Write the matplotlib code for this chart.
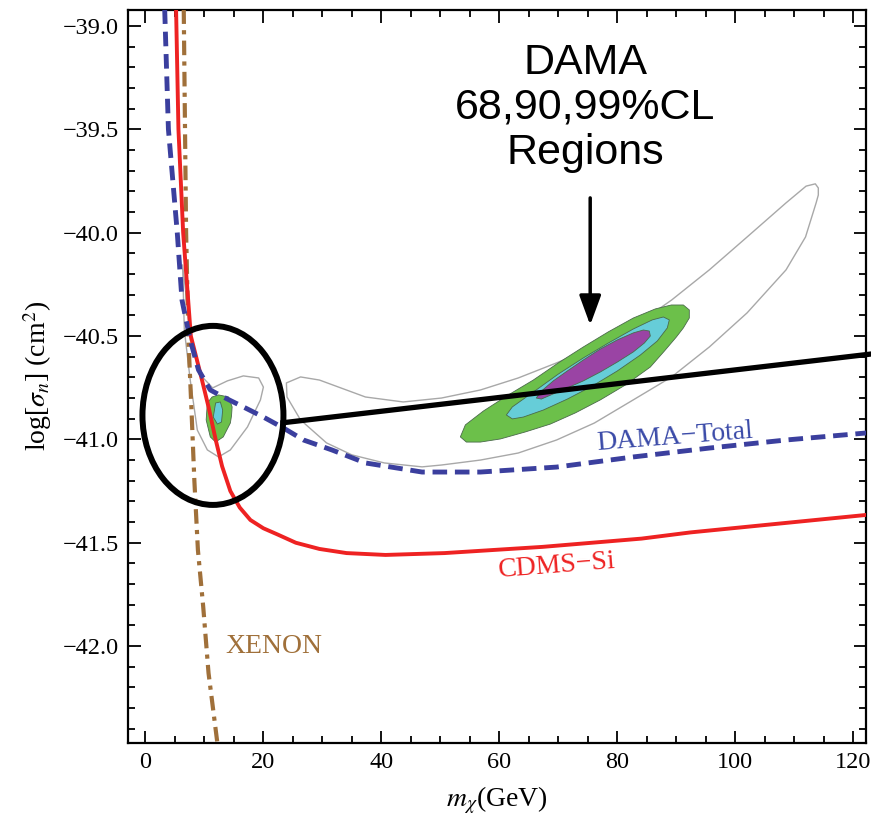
import matplotlib
matplotlib.use("Agg")
import matplotlib.pyplot as plt
from matplotlib.patches import Ellipse, Polygon
from matplotlib.ticker import MultipleLocator, FuncFormatter

# Exclusion curves (m_chi in GeV, log10 sigma_n in cm^2)
cdms_x = [5.2, 5.6, 6.4, 7.7, 9.3, 10.7, 11.9, 13.0, 14.4, 16.0, 17.8, 20.0, 22.4, 25.5,
          29.5, 34.1, 40.7, 50.7, 67.3, 84.1, 92.4, 122.0]
cdms_y = [-38.92, -39.5, -40.0, -40.5, -40.679, -40.843, -41.0, -41.13, -41.25, -41.33,
          -41.39, -41.43, -41.46, -41.50, -41.53, -41.55, -41.559, -41.55, -41.52, -41.48,
          -41.45, -41.366]

dama_x = [3.27, 3.9, 5.4, 6.2, 7.6, 9.0, 11.0, 13.2, 16.6, 20.0, 23.4, 26.8, 31.6,
          37.3, 46.9, 56.8, 69.7, 82.7, 95.6, 108.6, 122.2]
dama_y = [-38.92, -39.5, -40.0, -40.326, -40.519, -40.664, -40.761, -40.795, -40.843,
          -40.892, -40.945, -41.003, -41.051, -41.114, -41.158, -41.158, -41.134,
          -41.085, -41.042, -41.003, -40.969]

xenon_x = [6.5, 6.9, 7.3, 7.8, 8.3, 8.9, 9.8, 10.7, 12.2]
xenon_y = [-38.92, -40.0, -40.52, -40.85, -41.2, -41.535, -41.81, -42.13, -42.469]

# DAMA allowed regions (outlines)
main_99 = [(53.39, -40.988), (54.24, -40.930), (57.29, -40.863), (61.53, -40.785), (65.76, -40.713),
           (70.0, -40.630), (74.24, -40.553), (78.47, -40.480), (82.71, -40.413), (86.44, -40.369),
           (89.15, -40.350), (91.19, -40.350), (92.2, -40.374), (92.2, -40.413), (91.19, -40.461),
           (90.0, -40.505), (88.0, -40.572), (85.59, -40.650), (81.36, -40.737), (77.12, -40.809),
           (72.88, -40.872), (68.64, -40.926), (64.41, -40.964), (60.17, -40.998), (56.78, -41.013),
           (54.41, -41.013)]
main_90 = [(61.19, -40.882), (62.2, -40.843), (65.76, -40.771), (70.0, -40.684), (74.24, -40.606),
           (78.47, -40.534), (82.71, -40.466), (85.93, -40.422), (87.8, -40.408), (88.81, -40.422),
           (88.47, -40.461), (86.78, -40.524), (83.9, -40.592), (80.0, -40.669), (75.76, -40.742),
           (71.53, -40.805), (67.46, -40.858), (64.07, -40.892), (62.2, -40.901)]
main_68 = [(66.27, -40.800), (66.95, -40.771), (69.15, -40.717), (71.53, -40.669), (74.24, -40.616),
           (77.12, -40.563), (80.0, -40.519), (82.71, -40.485), (84.41, -40.471), (85.42, -40.476),
           (85.59, -40.500), (84.58, -40.534), (82.71, -40.577), (80.0, -40.626), (77.12, -40.674),
           (74.24, -40.717), (71.53, -40.751), (69.15, -40.780), (67.12, -40.805)]
low_99 = [(10.3, -40.906), (10.5, -40.824), (11.3, -40.795), (12.4, -40.785), (14.1, -40.795),
          (14.7, -40.843), (14.6, -40.885), (14.4, -40.921), (13.2, -40.988), (11.9, -41.013),
          (11.0, -40.988)]
low_90 = [(11.9, -40.824), (12.7, -40.819), (13.1, -40.858), (12.9, -40.916), (12.2, -40.926),
          (11.5, -40.892)]
low_outer = [(6.3, -40.156), (6.6, -40.471), (7.6, -40.713), (8.8, -40.955), (10.5, -41.051),
             (12.4, -41.085), (14.4, -41.051), (17.3, -40.940), (19.5, -40.809), (20.0, -40.747),
             (19.2, -40.703), (16.6, -40.693), (13.9, -40.717), (11.4, -40.751), (9.3, -40.688),
             (7.6, -40.519), (6.8, -40.277)]
main_outer = [(23.9, -40.727), (26.3, -40.698), (29.5, -40.713), (37.3, -40.795), (43.7, -40.819),
              (50.2, -40.800), (56.8, -40.761), (63.2, -40.703), (69.7, -40.630), (76.1, -40.553),
              (82.7, -40.456), (89.2, -40.326), (95.6, -40.180), (102.0, -40.021), (108.6, -39.856),
              (112.0, -39.775), (113.56, -39.764), (114.07, -39.784), (114.07, -39.818),
              (113.7, -39.856), (111.9, -40.021), (108.6, -40.180), (102.0, -40.388), (95.6, -40.553),
              (89.2, -40.698), (82.7, -40.809), (76.1, -40.921), (69.7, -41.003), (63.2, -41.066),
              (56.8, -41.100), (50.2, -41.124), (46.9, -41.133), (40.5, -41.114), (35.0, -41.075),
              (30.7, -41.017), (26.3, -40.906), (24.0, -40.795)]

plt.rcParams['font.family'] = ['Liberation Serif', 'DejaVu Serif']
plt.rcParams['mathtext.fontset'] = 'stix'

fig = plt.figure(figsize=(8.71, 8.31), dpi=100)
ax = fig.add_axes([0.1473, 0.1063, 0.8466, 0.8817])

# gray outer contours
for pts in (main_outer, low_outer):
    ax.add_patch(Polygon(pts, closed=True, fill=False, edgecolor='#a8a8a8', lw=1.0,
                         joinstyle='round', zorder=2))

# filled confidence regions
for pts, col in ((main_99, '#6cc04a'), (main_90, '#66cdd8'), (main_68, '#9a44a4'),
                 (low_99, '#6cc04a'), (low_90, '#66cdd8')):
    ax.add_patch(Polygon(pts, closed=True, facecolor=col, edgecolor='#4a6a4a', lw=0.6,
                         joinstyle='round', zorder=3))

ax.plot(xenon_x, xenon_y, color='#a0703a', lw=3, dashes=(3.5, 1.5, 1, 1.5), zorder=4)
ax.plot(cdms_x, cdms_y, color='#ee2222', lw=2.8, zorder=5)
ax.plot(dama_x, dama_y, color='#3b3f9e', lw=3.5, dashes=(3, 1.6), zorder=6)

ax.text(89.8, -40.988, 'DAMA\u2212Total', color='#3a4aa8', fontsize=20, rotation=4.5,
        ha='center', va='center', rotation_mode='anchor', zorder=7)
ax.text(69.7, -41.612, 'CDMS\u2212Si', color='#ee2222', fontsize=20, rotation=4.5,
        ha='center', va='center', rotation_mode='anchor', zorder=7)
ax.text(21.7, -42.0, 'XENON', color='#a0703a', fontsize=20, ha='center', va='center', zorder=7)

# annotation: circle, pointer line, arrow and label
ax.add_patch(Ellipse((11.45, -40.884), 23.9, 0.866, fill=False, edgecolor='black', lw=4.3,
                     zorder=8, clip_on=False))
ax.plot([22.9, 123.05], [-40.921, -40.587], color='black', lw=3.8, zorder=8, clip_on=False,
        solid_capstyle='butt')
ax.annotate('', xy=(75.4, -40.447), xytext=(75.4, -39.832),
            arrowprops=dict(arrowstyle='-|>,head_length=0.6,head_width=0.22', lw=2.5,
                            color='black', mutation_scale=30, shrinkA=0, shrinkB=0), zorder=8)
ax.text(74.6, -39.397, 'DAMA\n68,90,99%CL\nRegions', fontsize=31, family='Liberation Sans',
        ha='center', va='center', linespacing=1.15, zorder=8)

ax.set_xlim(-2.9, 122.1)
ax.set_ylim(-42.467, -38.923)
ax.xaxis.set_major_locator(MultipleLocator(20))
ax.xaxis.set_minor_locator(MultipleLocator(5))
ax.yaxis.set_major_locator(MultipleLocator(0.5))
ax.yaxis.set_minor_locator(MultipleLocator(0.1))
ax.yaxis.set_major_formatter(FuncFormatter(lambda v, p: f'{v:.1f}'.replace('-', '\u2212')))
ax.tick_params(which='both', direction='in', top=True, right=True, width=1.3, labelsize=17.5)
ax.tick_params(which='major', length=9, pad=7)
ax.tick_params(which='minor', length=5)
for s in ax.spines.values():
    s.set_linewidth(1.6)

ax.set_xlabel(r'$m_\chi$(GeV)', fontsize=20, labelpad=8)
ax.set_ylabel(r'log[$\sigma_n$] (cm$^2$)', fontsize=20, labelpad=6)

fig.savefig('out.png', dpi=100)
